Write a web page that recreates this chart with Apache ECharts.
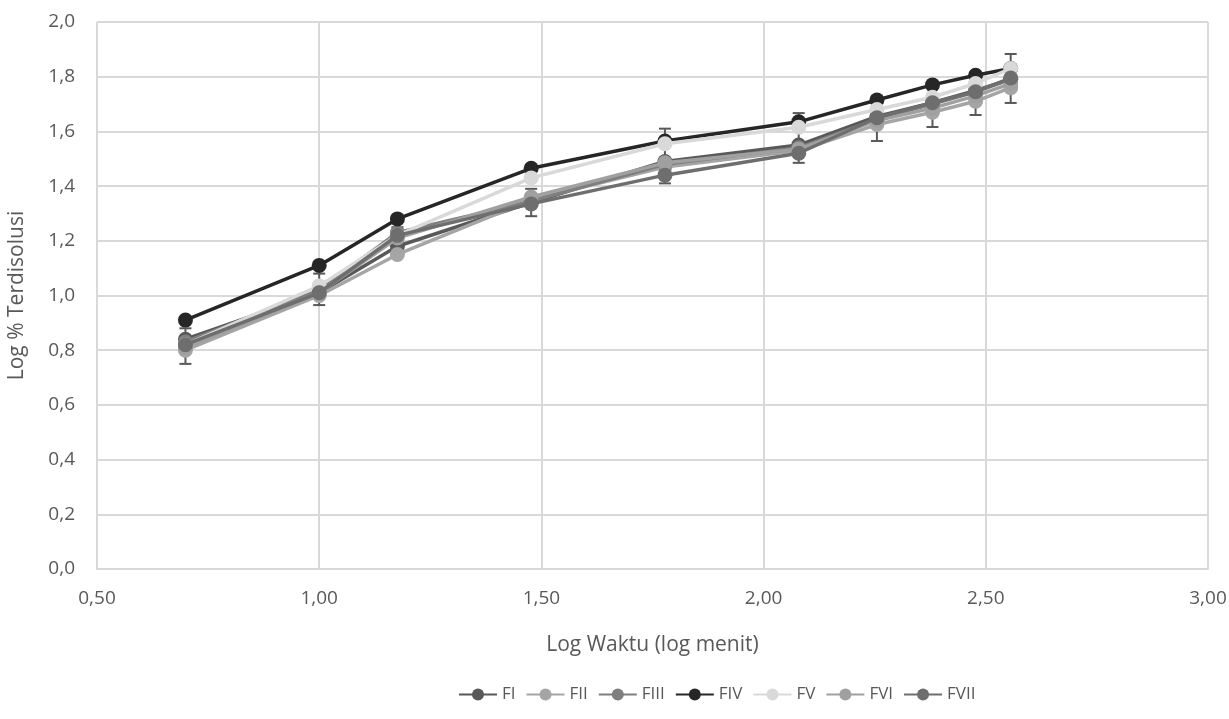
<!DOCTYPE html>
<html><head><meta charset="utf-8">
<script src="https://cdn.jsdelivr.net/npm/echarts@6/dist/echarts.min.js"></script>
<style>html,body{margin:0;padding:0;background:#fff}#c{width:1229px;height:719px}</style>
</head><body><div id="c"></div>
<script>
var logTime = [0.699, 1.000, 1.176, 1.477, 1.778, 2.079, 2.255, 2.380, 2.477, 2.556];
var FI   = [0.84, 1.01, 1.18, 1.34, 1.49, 1.55, 1.655, 1.705, 1.750, 1.790];
var FII  = [0.80, 1.00, 1.15, 1.35, 1.47, 1.53, 1.625, 1.670, 1.710, 1.760];
var FIII = [0.83, 1.02, 1.23, 1.345, 1.48, 1.54, 1.645, 1.700, 1.745, 1.790];
var FIV  = [0.91, 1.11, 1.28, 1.465, 1.565, 1.635, 1.715, 1.770, 1.805, 1.830];
var FV   = [0.82, 1.035, 1.22, 1.43, 1.555, 1.615, 1.680, 1.725, 1.775, 1.830];
var FVI  = [0.81, 1.01, 1.21, 1.36, 1.485, 1.535, 1.640, 1.685, 1.730, 1.775];
var FVII = [0.82, 1.01, 1.22, 1.335, 1.44, 1.52, 1.650, 1.705, 1.745, 1.795];
var errLow  = [0.75, 0.965, 1.19, 1.29, 1.41, 1.485, 1.565, 1.616, 1.66, 1.704];
var errHigh = [0.88, 1.08, 1.25, 1.39, 1.61, 1.667, 1.73, 1.77, 1.80, 1.883];
var seriesNames = ['FI','FII','FIII','FIV','FV','FVI','FVII'];
var seriesData = [FI, FII, FIII, FIV, FV, FVI, FVII];
var colors = ['#595959','#a5a5a5','#7f7f7f','#262626','#d9d9d9','#a0a0a0','#6e6e6e'];

var font = 'Open Sans';
var chart = echarts.init(document.getElementById('c'));
var series = [];
var errData = logTime.map(function(x,i){return [x, errLow[i], errHigh[i]];});
series.push({
  type:'custom', name:'err', z:1, silent:true,
  data: errData,
  encode:{x:0, y:[1,2]},
  renderItem:function(params, api){
    var x = api.value(0);
    var lo = api.coord([x, api.value(1)]);
    var hi = api.coord([x, api.value(2)]);
    var w = 6;
    var st = {stroke:'#595959', lineWidth:2};
    return {type:'group', children:[
      {type:'line', shape:{x1:lo[0],y1:lo[1],x2:hi[0],y2:hi[1]}, style:st},
      {type:'line', shape:{x1:lo[0]-w,y1:lo[1],x2:lo[0]+w,y2:lo[1]}, style:st},
      {type:'line', shape:{x1:hi[0]-w,y1:hi[1],x2:hi[0]+w,y2:hi[1]}, style:st}
    ]};
  }
});
seriesNames.forEach(function(n, k){
  series.push({
    type:'line', name:n, z:2+k,
    data: logTime.map(function(x,i){return [x, seriesData[k][i]];}),
    symbol:'circle', symbolSize:15, showSymbol:true,
    lineStyle:{color:colors[k], width:3.5},
    itemStyle:{color:colors[k]},
    emphasis:{disabled:true}
  });
});

chart.setOption({
  animation:false,
  backgroundColor:'#fff',
  grid:{left:97, right:21, top:22, bottom:150, outerBoundsMode:'none', containLabel:false},
  legend:{
    data:seriesNames, top:681, left:453,
    itemWidth:38, itemHeight:15, itemGap:10,
    textStyle:{fontFamily:font, fontSize:17, color:'#595959'}
  },
  xAxis:{
    type:'value', min:0.5, max:3.0, interval:0.5,
    name:'Log Waktu (log menit)', nameLocation:'middle', nameGap:66,
    nameTextStyle:{fontFamily:font, fontSize:21, color:'#595959'},
    axisLine:{show:true, lineStyle:{color:'#d9d9d9', width:2}},
    axisTick:{show:false},
    axisLabel:{fontFamily:font, fontSize:19, color:'#595959', margin:20,
      formatter:function(v){return v.toFixed(2).replace('.',',');}},
    splitLine:{show:true, lineStyle:{color:'#d9d9d9', width:2}}
  },
  yAxis:{
    type:'value', min:0, max:2.0, interval:0.2,
    name:'Log % Terdisolusi', nameLocation:'middle', nameGap:69,
    nameTextStyle:{fontFamily:font, fontSize:21, color:'#595959'},
    axisLine:{show:false}, axisTick:{show:false},
    axisLabel:{fontFamily:font, fontSize:19, color:'#595959', margin:22,
      formatter:function(v){return v.toFixed(1).replace('.',',');}},
    splitLine:{show:true, lineStyle:{color:'#d9d9d9', width:2}}
  },
  series:series
});
</script></body></html>
